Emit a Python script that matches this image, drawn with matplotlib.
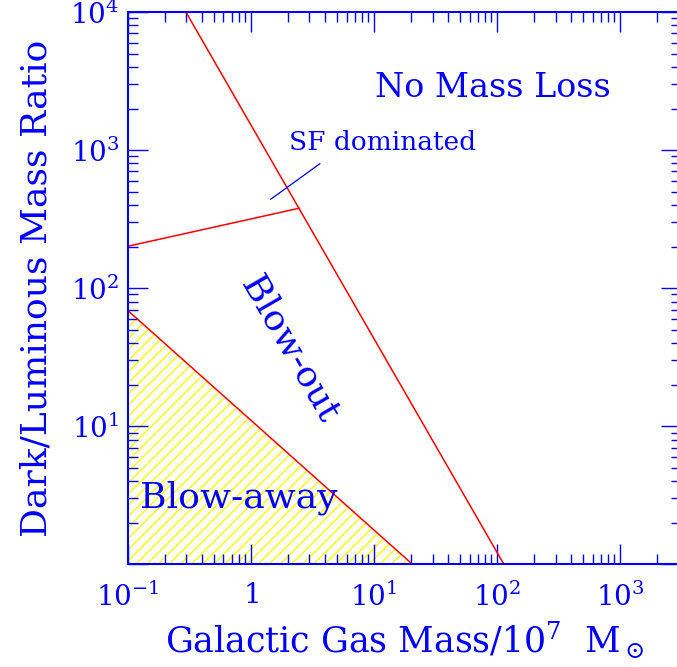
import matplotlib
matplotlib.use("Agg")
import matplotlib.pyplot as plt
from matplotlib.ticker import FixedLocator, LogLocator, NullFormatter, FixedFormatter

plt.rcParams['font.family'] = ['DejaVu Serif']
plt.rcParams['mathtext.fontset'] = 'dejavuserif'
plt.rcParams['hatch.linewidth'] = 1.0

BLUE = '#0000ff'
RED = '#ff0000'
YELLOW = '#ffff00'

# Boundary lines (data coordinates)
steep_x = [0.297, 114.0]
steep_y = [1e4, 1.0]
away_x = [0.1, 20.6]
away_y = [69.0, 1.0]
sf_x = [0.1, 2.47]
sf_y = [201.0, 379.0]
pointer_x = [1.456, 3.64]
pointer_y = [441.0, 796.0]

xticks = [0.1, 1, 10, 100, 1000]
xticklabels = [r'$10^{-1}$', r'$1$', r'$10^{1}$', r'$10^{2}$', r'$10^{3}$']
yticks = [1, 10, 100, 1000, 10000]
yticklabels = ['', r'$10^{1}$', r'$10^{2}$', r'$10^{3}$', r'$10^{4}$']

fig = plt.figure(figsize=(6.77, 6.67), dpi=100)
ax = fig.add_axes([127.7/677, (667-564.3)/667, (681.5-127.7)/677, (564.3-12)/667])
ax.set_xscale('log')
ax.set_yscale('log')
ax.set_xlim(0.1, 10**3.5)
ax.set_ylim(1, 1e4)

ax.fill_between(away_x, away_y, [1, 1], facecolor='none', edgecolor=YELLOW,
                hatch='///', linewidth=0)
ax.plot(steep_x, steep_y, color=RED, lw=1.1)
ax.plot(away_x, away_y, color=RED, lw=1.1)
ax.plot(sf_x, sf_y, color=RED, lw=1.1)
ax.plot(pointer_x, pointer_y, color=BLUE, lw=0.9)

ax.xaxis.set_major_locator(FixedLocator(xticks))
ax.xaxis.set_major_formatter(FixedFormatter(xticklabels))
ax.xaxis.set_minor_locator(LogLocator(base=10, subs=range(2, 10), numticks=20))
ax.xaxis.set_minor_formatter(NullFormatter())
ax.yaxis.set_major_locator(FixedLocator(yticks))
ax.yaxis.set_major_formatter(FixedFormatter(yticklabels))
ax.yaxis.set_minor_locator(LogLocator(base=10, subs=range(2, 10), numticks=20))
ax.yaxis.set_minor_formatter(NullFormatter())

ax.tick_params(which='both', direction='in', top=True, right=True, color=BLUE,
               labelcolor=BLUE)
ax.tick_params(which='major', length=14.4, width=1.0, labelsize=20)
ax.tick_params(axis='x', which='major', pad=13)
ax.tick_params(axis='y', which='major', pad=6)
ax.tick_params(which='minor', length=7.2, width=1.0)
for s in ax.spines.values():
    s.set_color(BLUE)
    s.set_linewidth(1.5)

ax.set_xlabel(r'Galactic Gas Mass/10$^7$  M$_\odot$', color=BLUE, fontsize=25, labelpad=6)
ax.set_ylabel('Dark/Luminous Mass Ratio', color=BLUE, fontsize=26, labelpad=12)

ax.text(92.5, 2833, 'No Mass Loss', color=BLUE, fontsize=24, ha='center', va='center')
ax.text(11.8, 1135, 'SF dominated', color=BLUE, fontsize=19, ha='center', va='center')
ax.text(0.796, 3.01, 'Blow-away', color=BLUE, fontsize=26, ha='center', va='center')
ax.text(2.09, 36.4, 'Blow-out', color=BLUE, fontsize=26, ha='center', va='center',
        rotation=-60, rotation_mode='anchor')

fig.savefig('out.png', dpi=100)
